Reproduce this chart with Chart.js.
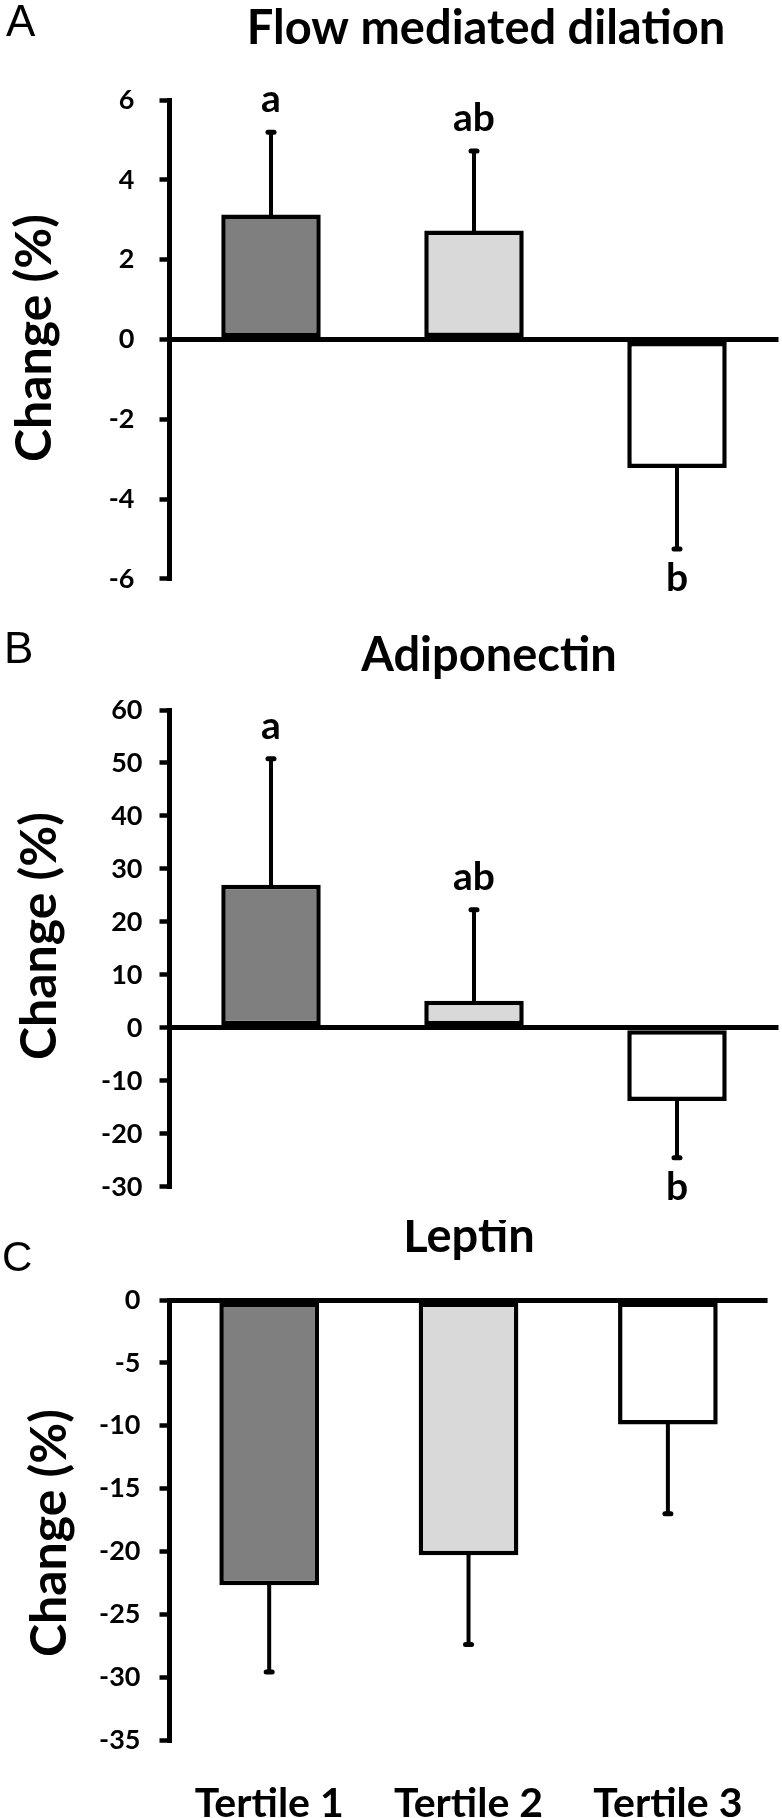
<!DOCTYPE html>
<html>
<head>
<meta charset="utf-8">
<script src="https://cdn.jsdelivr.net/npm/chart.js@4.4.1/dist/chart.umd.min.js"></script>
<style>
  html, body { margin: 0; padding: 0; background: #ffffff; }
  #wrap { position: relative; width: 782px; height: 1818px; overflow: hidden; background: #fff; }
  #wrap canvas { position: absolute; left: 0; }
</style>
</head>
<body>
<div id="wrap">
  <canvas id="cA" width="782" height="620" style="top:0px"></canvas>
  <canvas id="cB" width="782" height="600" style="top:620px"></canvas>
  <canvas id="cC" width="782" height="598" style="top:1220px"></canvas>
</div>
<script>
// ---------------- DATA ----------------
const categories = ['Tertile 1', 'Tertile 2', 'Tertile 3'];
const barColors = ['#7f7f7f', '#d9d9d9', '#ffffff'];
const yAxisTitle = 'Change (%)';

// Panel A: Flow mediated dilation
const fmdTitle = 'Flow mediated dilation';
const fmdMean = [3.13, 2.73, -3.22];
const fmdError = [2.06, 1.99, 2.03];
const fmdLetters = ['a', 'ab', 'b'];
const fmdTicks = [-6, -4, -2, 0, 2, 4, 6];

// Panel B: Adiponectin
const adipoTitle = 'Adiponectin';
const adipoMean = [27.0, 5.1, -13.8];
const adipoError = [23.8, 17.2, 10.7];
const adipoLetters = ['a', 'ab', 'b'];
const adipoTicks = [-30, -20, -10, 0, 10, 20, 30, 40, 50, 60];

// Panel C: Leptin
const leptinTitle = 'Leptin';
const leptinMean = [-22.7, -20.3, -9.9];
const leptinError = [6.9, 7.1, 7.1];
const leptinLetters = ['', '', ''];
const leptinTicks = [-35, -30, -25, -20, -15, -10, -5, 0];

// ---------------- PLUGIN ----------------
const annotPlugin = {
  id: 'annot',
  afterDatasetsDraw(chart, args, o) {
    const ctx = chart.ctx;
    const ys = chart.scales.y;
    const meta = chart.getDatasetMeta(0);
    ctx.save();
    ctx.strokeStyle = '#000';
    ctx.fillStyle = '#000';
    ctx.lineCap = 'round';
    meta.data.forEach((bar, i) => {
      const m = o.mean[i], e = o.err[i];
      const s = m >= 0 ? 1 : -1;
      const y0 = ys.getPixelForValue(m);
      const y1 = ys.getPixelForValue(m + s * e);
      ctx.lineWidth = 4;
      ctx.beginPath(); ctx.moveTo(bar.x, y0); ctx.lineTo(bar.x, y1); ctx.stroke();
      ctx.lineWidth = 5;
      ctx.beginPath(); ctx.moveTo(bar.x - 3, y1); ctx.lineTo(bar.x + 3, y1); ctx.stroke();
      const L = o.letters[i];
      if (L) {
        ctx.font = 'bold 39px Lato';
        ctx.textAlign = 'center';
        ctx.textBaseline = 'alphabetic';
        ctx.fillText(L, bar.x, s > 0 ? y1 - 20 : y1 + 42);
      }
    });
    ctx.restore();
  },
  afterDraw(chart, args, o) {
    const ctx = chart.ctx;
    const top = o.canvasTop;
    ctx.save();
    ctx.fillStyle = '#000';
    // chart title
    ctx.font = 'bold 47px Lato';
    ctx.textAlign = 'center';
    ctx.textBaseline = 'alphabetic';
    ctx.fillText(o.title, o.titleX, o.titleBase - top);
    // panel letter
    ctx.font = o.letterFont;
    ctx.textAlign = 'left';
    ctx.fillText(o.panel, o.panelX, o.panelBase - top);
    // y-axis title
    ctx.translate(o.yTitleX, o.yTitleY - top);
    ctx.rotate(-Math.PI / 2);
    ctx.font = 'bold 50px Lato';
    ctx.textAlign = 'center';
    ctx.textBaseline = 'middle';
    ctx.fillText(yAxisTitle, 0, 0);
    ctx.restore();
  }
};

function makePanel(id, d, lay) {
  const ticks = d.ticks;
  const cfg = {
    type: 'bar',
    data: {
      labels: categories,
      datasets: [{
        data: d.mean,
        backgroundColor: barColors,
        borderColor: '#000000',
        borderWidth: 4.5,
        borderSkipped: false,
        barPercentage: lay.barPct,
        categoryPercentage: 1.0
      }]
    },
    options: {
      responsive: false,
      animation: false,
      devicePixelRatio: 1,
      layout: { padding: { top: lay.padTop, bottom: lay.padBottom, left: lay.padLeft, right: lay.padRight } },
      plugins: {
        legend: { display: false },
        title: { display: false },
        tooltip: { enabled: false },
        annot: {
          mean: d.mean, err: d.err, letters: d.letters,
          title: d.title, panel: d.panel,
          canvasTop: lay.canvasTop,
          titleX: lay.titleX, titleBase: lay.titleBase,
          panelX: lay.panelX, panelBase: lay.panelBase, letterFont: lay.letterFont,
          yTitleX: lay.yTitleX, yTitleY: lay.yTitleY
        }
      },
      scales: {
        x: {
          type: 'category',
          display: lay.showX,
          position: 'bottom',
          offset: true,
          grid: { display: false, drawTicks: false },
          border: { display: false },
          ticks: { color: '#000', font: { family: 'Lato', size: 41, weight: 'bold' }, padding: lay.xPad, maxRotation: 0, autoSkip: false },
          afterFit: (s) => { s.height = lay.xHeight; }
        },
        y: {
          min: ticks[0],
          max: ticks[ticks.length - 1],
          afterBuildTicks: (s) => { s.ticks = ticks.map(v => ({ value: v })); },
          grid: {
            color: (c) => (c.tick && c.tick.value === 0) ? '#000000' : 'rgba(0,0,0,0)',
            lineWidth: 5,
            tickColor: '#000000',
            tickWidth: 4.5,
            tickLength: 10,
            drawTicks: true,
            drawOnChartArea: true
          },
          border: { display: true, color: '#000000', width: 5 },
          ticks: {
            color: '#000',
            font: { family: 'Lato', size: 27, weight: 'bold' },
            padding: lay.yPad,
            callback: (v) => String(v)
          },
          afterFit: (s) => { s.width = 150; }
        }
      }
    },
    plugins: [annotPlugin]
  };
  return new Chart(document.getElementById(id), cfg);
}

function build() {
  makePanel('cA',
    { mean: fmdMean, err: fmdError, letters: fmdLetters, ticks: fmdTicks, title: fmdTitle, panel: 'A' },
    { canvasTop: 0, padTop: 100, padBottom: 34, padLeft: 19.5, padRight: 3.5, barPct: 0.49,
      showX: false, xHeight: 0, xPad: 0, yPad: 25,
      titleX: 486, titleBase: 44, panelX: 6, panelBase: 36, letterFont: '44px "Liberation Sans"',
      yTitleX: 35, yTitleY: 338 });
  makePanel('cB',
    { mean: adipoMean, err: adipoError, letters: adipoLetters, ticks: adipoTicks, title: adipoTitle, panel: 'B' },
    { canvasTop: 620, padTop: 90, padBottom: 33, padLeft: 19.5, padRight: 3.5, barPct: 0.49,
      showX: false, xHeight: 0, xPad: 0, yPad: 17,
      titleX: 489, titleBase: 671, panelX: 4, panelBase: 663, letterFont: '44px "Liberation Sans"',
      yTitleX: 40, yTitleY: 936 });
  makePanel('cC',
    { mean: leptinMean, err: leptinError, letters: leptinLetters, ticks: leptinTicks, title: leptinTitle, panel: 'C' },
    { canvasTop: 1220, padTop: 80, padBottom: 0, padLeft: 19.5, padRight: 3.5, barPct: 0.5,
      showX: true, xHeight: 78, xPad: 39, yPad: 19,
      titleX: 469, titleBase: 1252, panelX: 2, panelBase: 1271, letterFont: '42px "Liberation Sans"',
      yTitleX: 50, yTitleY: 1533 });
}

Promise.all([
  document.fonts.load('bold 40px Lato'),
  document.fonts.load('40px "Liberation Sans"')
]).then(build, build);
</script>
</body>
</html>
